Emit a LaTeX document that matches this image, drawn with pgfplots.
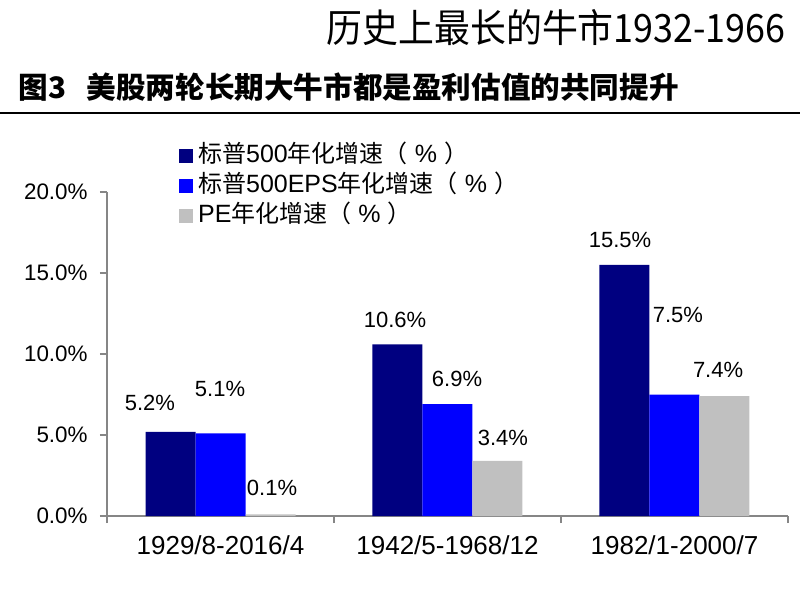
\documentclass[border=0pt]{standalone}
\usepackage{fontspec}
\setmainfont{Liberation Sans}
\newfontfamily\cjk{Noto Sans CJK SC}
\usepackage{pgfplots}
\pgfplotsset{compat=1.18}
\definecolor{navybar}{RGB}{0,0,128}
\definecolor{bluebar}{RGB}{0,0,255}
\definecolor{graybar}{RGB}{192,192,192}
\definecolor{axisgray}{RGB}{134,134,134}
% legend text: Latin part in Liberation Sans, CJK part in Noto Sans CJK
\newcommand{\cj}[1]{{\cjk\fontsize{12}{12}\selectfont #1}}
\newcommand{\lt}[1]{{\fontsize{12.5}{12.5}\selectfont #1}}
\newcommand{\pct}{\cj{（}\hspace{3.5pt}\lt{\%}\hspace{3.5pt}\cj{）}}

\begin{document}
\begin{tikzpicture}
% canvas 800x600 px at 0.5pt per px
\path[use as bounding box] (0pt,0pt) rectangle (400pt,-300pt);
\node[anchor=east, inner sep=0pt, font=\cjk\fontsize{19.5}{19.5}\selectfont] at (393pt,-14pt) {\scalebox{0.92}[1]{历史上最长的牛市1932-1966}};
\node[anchor=west, inner sep=0pt, font=\cjk\bfseries\fontsize{14.8}{14.8}\selectfont] at (9pt,-43.5pt) {图3\hspace{0.7em}美股两轮长期大牛市都是盈利估值的共同提升};
\draw[line width=1.4pt] (0pt,-56.5pt) -- (400pt,-56.5pt);

\begin{axis}[
  at={(53.5pt,-258pt)}, anchor=south west,
  scale only axis, width=340.5pt, height=162pt,
  xmin=-0.5, xmax=2.5, ymin=0, ymax=20,
  axis x line*=bottom, axis y line*=left,
  axis line style={axisgray, line width=1pt, -},
  tick style={axisgray, line width=1pt},
  tick align=outside, major tick length=3.5pt,
  ytick={0,5,10,15,20},
  yticklabels={0.0\%,5.0\%,10.0\%,15.0\%,20.0\%},
  yticklabel style={font=\fontsize{11.2}{11.2}\selectfont, inner sep=0pt, xshift=-6pt},
  xtick={-0.5,0.5,1.5,2.5}, xticklabels={},
  extra x ticks={0,1,2},
  extra x tick labels={1929/8-2016/4,1942/5-1968/12,1982/1-2000/7},
  extra x tick style={major tick length=0pt,
    xticklabel style={font=\fontsize{13}{13}\selectfont, inner sep=0pt, anchor=north, yshift=-9.8pt}},
  ybar, bar width=25pt, ybar=0pt,
  legend style={at={(0.0965,1.16)}, anchor=north west, draw=none, fill=none,
    row sep=4pt, column sep=2.5pt,
    nodes={inner sep=0pt, text height=9pt, text depth=2pt}},
  legend cell align=left,
  legend image code/.code={\fill[#1] (0pt,-3.5pt) rectangle (7pt,3.5pt);},
  clip=false,
]
\addplot[fill=navybar, draw=none] coordinates {(0,5.2) (1,10.6) (2,15.5)};
\addlegendentry{\cj{标普}\lt{500}\cj{年化增速}\pct}
\addplot[fill=bluebar, draw=none] coordinates {(0,5.1) (1,6.9) (2,7.5)};
\addlegendentry{\cj{标普}\lt{500EPS}\cj{年化增速}\pct}
\addplot[fill=graybar, draw=none] coordinates {(0,0.1) (1,3.4) (2,7.4)};
\addlegendentry{\lt{PE}\cj{年化增速}\pct}

\begin{scope}[every node/.style={font=\fontsize{11}{11}\selectfont, inner sep=0pt}]
\node at (axis cs:-0.311,6.98) {5.2\%};
\node at (axis cs:-0.002,7.84) {5.1\%};
\node at (axis cs:0.227,1.73) {0.1\%};
\node at (axis cs:0.769,12.10) {10.6\%};
\node at (axis cs:1.042,8.46) {6.9\%};
\node at (axis cs:1.244,4.81) {3.4\%};
\node at (axis cs:1.760,17.04) {15.5\%};
\node at (axis cs:2.015,12.41) {7.5\%};
\node at (axis cs:2.192,9.01) {7.4\%};
\end{scope}
\end{axis}
\end{tikzpicture}
\end{document}
